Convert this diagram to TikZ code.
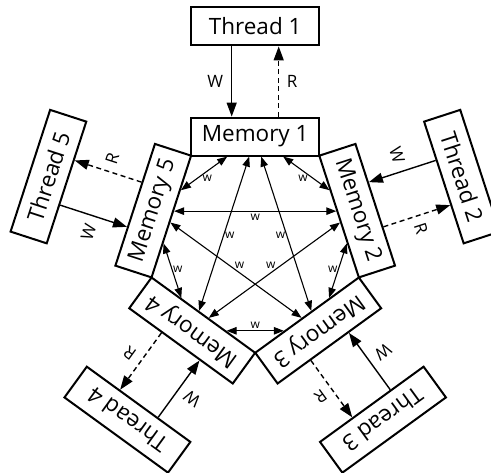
\documentclass[tikz,border=0pt]{standalone}
\usepackage{fontspec}
\setmainfont{Open Sans}
\usetikzlibrary{arrows.meta,calc}
\tikzset{
  box/.style={draw, line width=2pt, minimum width=128pt, minimum height=38pt,
    inner sep=0pt, outer sep=1pt, font=\fontsize{22.5}{25}\selectfont},
  wline/.style={line width=1.4pt, -{Triangle[length=14pt,width=10pt]}},
  rline/.style={wline, dash pattern=on 5pt off 3.5pt},
  rwlab/.style={inner sep=0pt, font=\fontsize{17}{20}\selectfont},
  link/.style={line width=1.1pt,
    {Triangle[length=10pt,width=7.5pt]}-{Triangle[length=10pt,width=7.5pt]}},
  linklab/.style={inner sep=0pt, font=\fontsize{12}{14}\selectfont},
}
\begin{document}
\begin{tikzpicture}[x=1pt,y=1pt]
  \useasboundingbox (-255.2,-229.2) rectangle (235.8,243.8);
  \fill[white] (-255.2,-229.2) rectangle (235.8,243.8);
  \clip (-255.2,-229.2) rectangle (235.8,243.8);
  \coordinate (O) at (0,0);

  % memories on a pentagon, threads outside them
  \foreach \i/\ang in {1/90, 2/18, 3/-54, 4/-126, 5/162} {
    \node[box, rotate=\ang-90] (M\i) at (\ang:107.2) {Memory \i};
    \node[box, rotate=\ang-90] (T\i) at (\ang:217.4) {Thread \i};
  }

  % write and read connectors between each thread and its memory
  \foreach \i/\ang in {1/90, 2/18, 3/-54, 4/-126, 5/162} {
    \coordinate (Tw\i) at ($(T\i.south)!23.5pt!(T\i.south west)$);
    \coordinate (Mw\i) at ($(M\i.north)!23.5pt!(M\i.north west)$);
    \coordinate (Tr\i) at ($(T\i.south)!23.5pt!(T\i.south east)$);
    \coordinate (Mr\i) at ($(M\i.north)!23.5pt!(M\i.north east)$);
    \draw[wline] (Tw\i) -- (Mw\i);
    \draw[rline] (Mr\i) -- (Tr\i);
    \node[rwlab, rotate=\ang-90] (LW\i) at ($(Tw\i)!.5!(Mw\i)!16.5pt!270:(Mw\i)$) {W};
    \node[rwlab, rotate=\ang-90] (LR\i) at ($(Mr\i)!.5!(Tr\i)!13.5pt!270:(Tr\i)$) {R};
  }

  % end points on the inner side of each memory
  \foreach \i in {1,...,5} {
    \coordinate (Ma\i) at ($(M\i.south)!28pt!(M\i.south east)$);
    \coordinate (Mb\i) at ($(M\i.south)!28pt!(M\i.south west)$);
    \coordinate (Mc\i) at ($(M\i.south)!6pt!(M\i.south east)$);
    \coordinate (Md\i) at ($(M\i.south)!6pt!(M\i.south west)$);
  }

  % links between neighbouring memories
  \foreach \i/\j in {1/2, 2/3, 3/4, 4/5, 5/1} {
    \draw[link] (Ma\i) -- (Mb\j);
    \node[linklab] (la\i) at ($(Ma\i)!.5!(Mb\j)!5.5pt!(O)$) {w};
  }

  % links across the pentagon
  \foreach \i/\j in {1/3, 2/4, 3/5, 4/1, 5/2} {
    \draw[link] (Mc\i) -- (Md\j);
    \node[linklab] (ld\i) at ($(Mc\i)!.5!(Md\j)!6pt!(O)$) {w};
  }
\end{tikzpicture}
\end{document}
